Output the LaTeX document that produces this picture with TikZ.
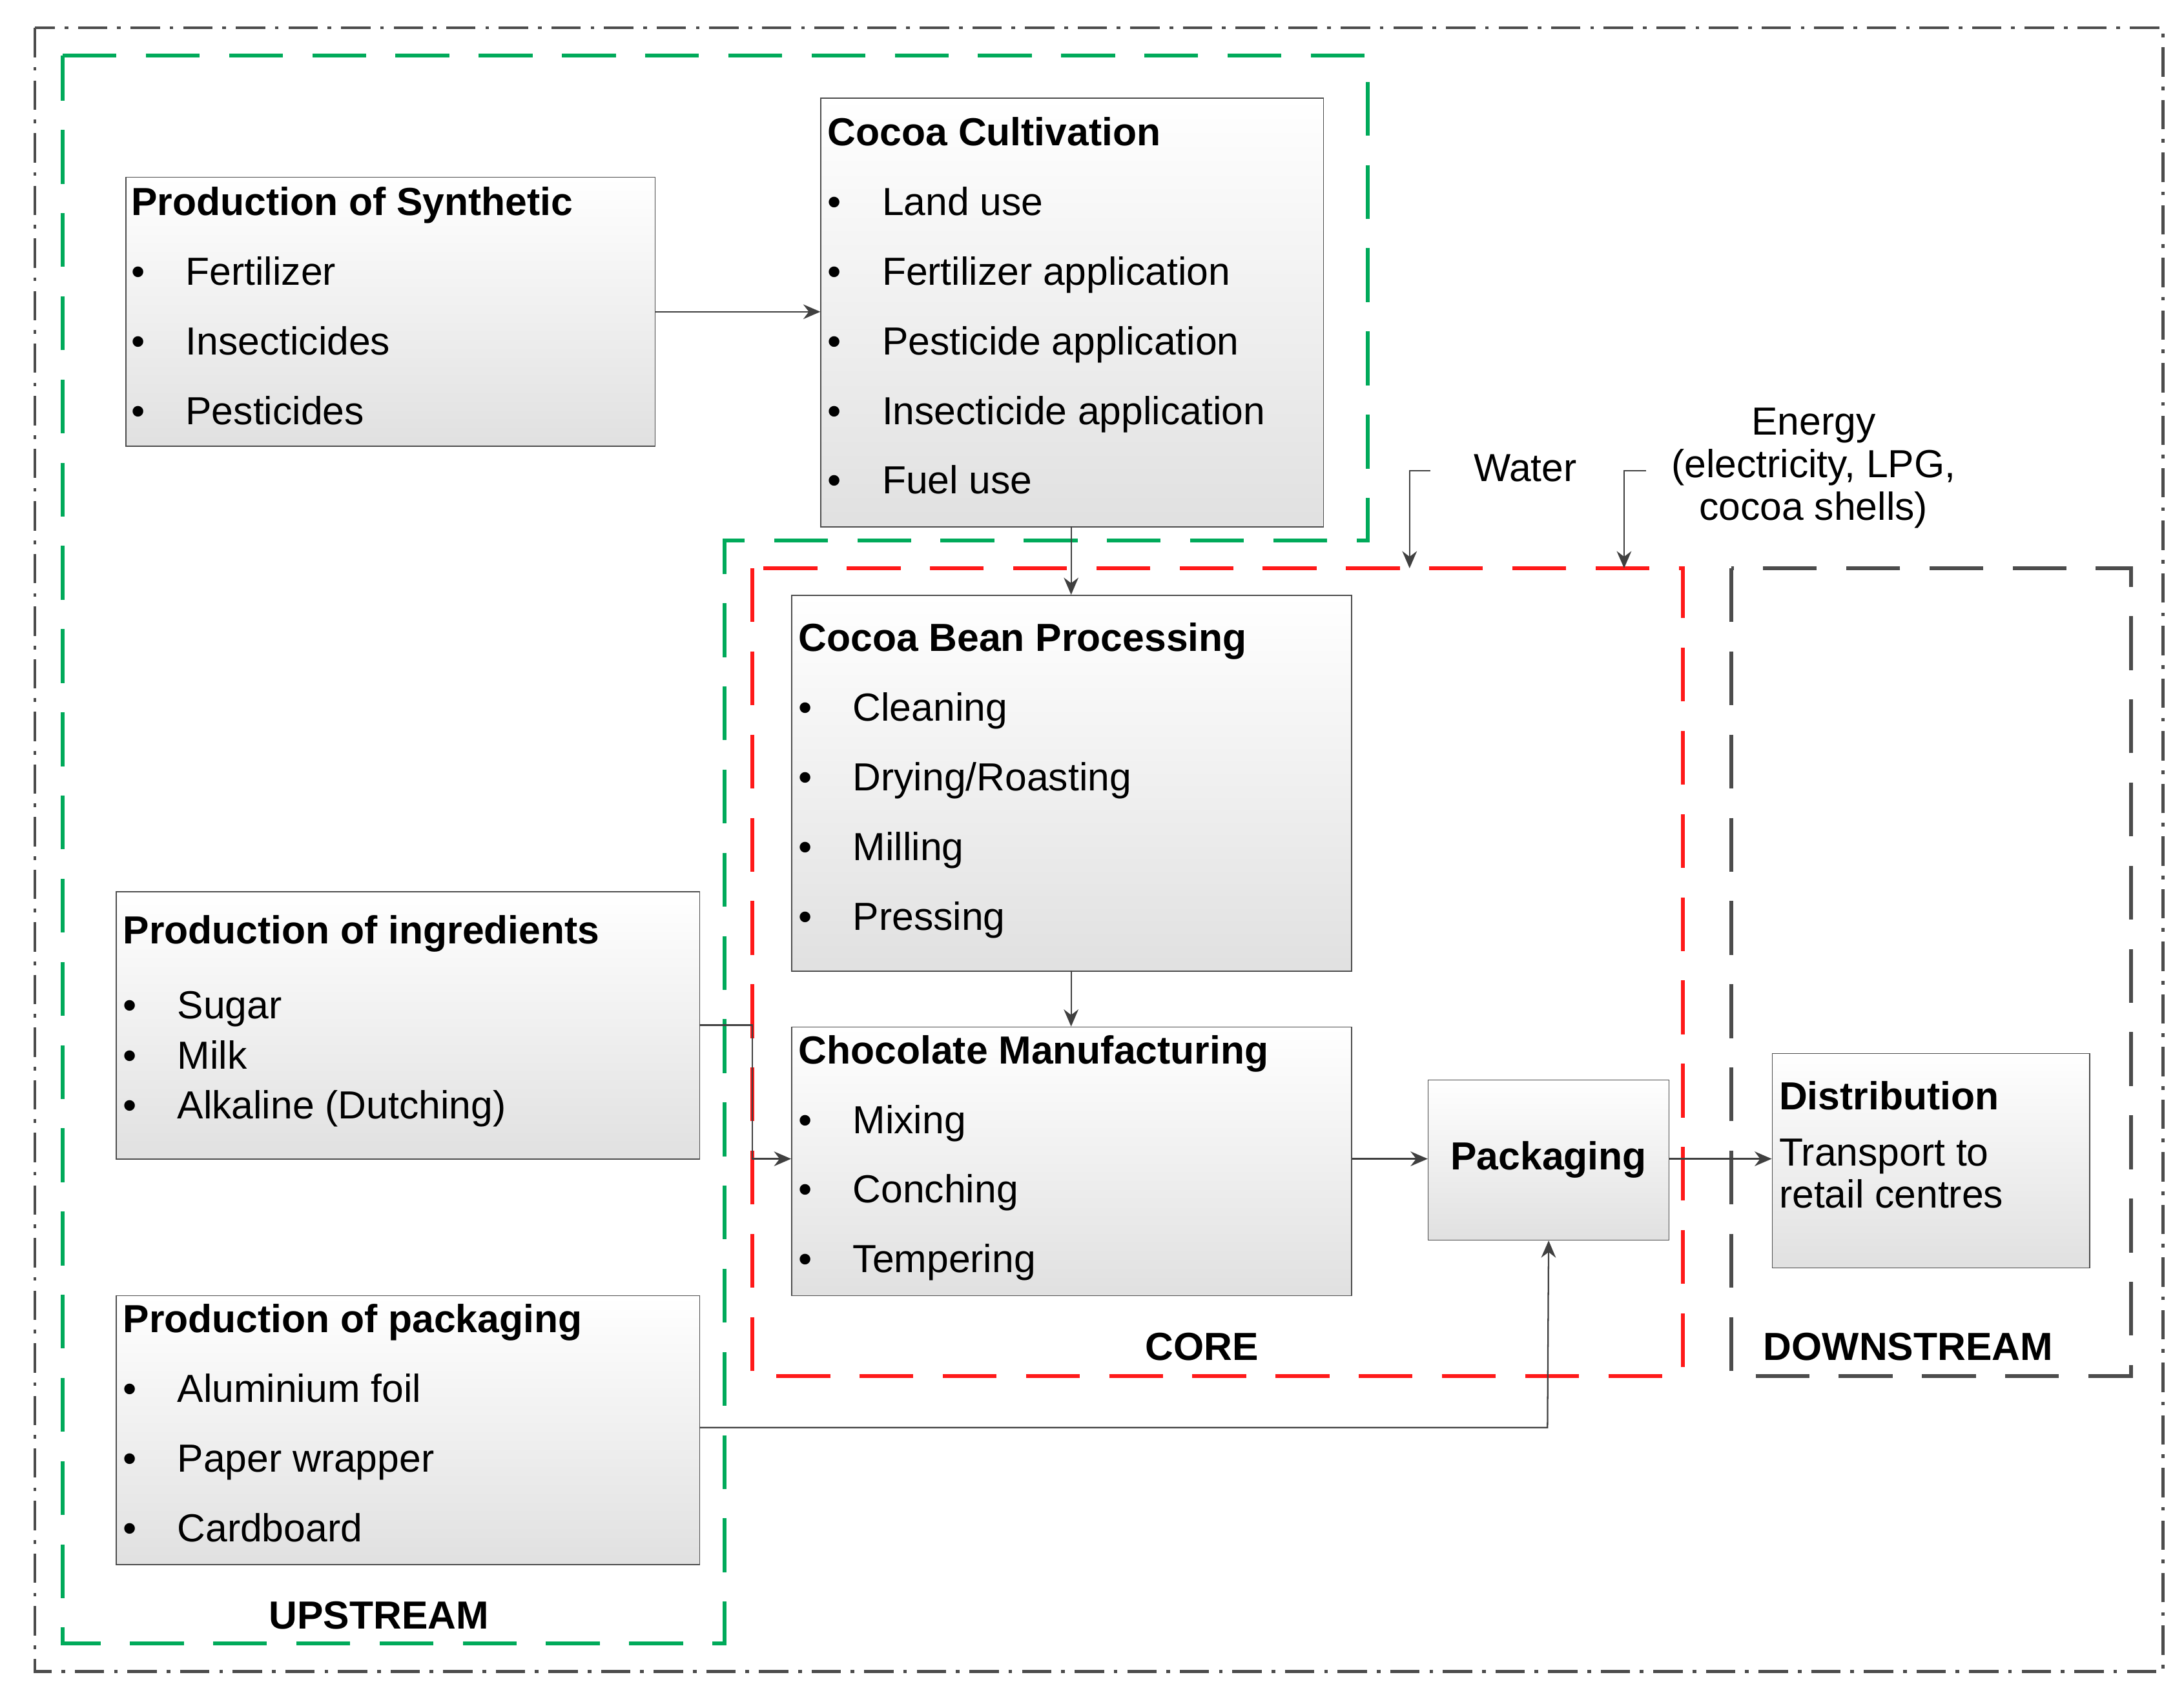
\documentclass[tikz,border=0pt]{standalone}
\usepackage{fontspec}
\setmainfont{Liberation Sans}
\usetikzlibrary{arrows.meta}
\definecolor{upgreen}{RGB}{0,170,90}
\tikzset{
  box/.style={draw=black!70, top color=white, bottom color=black!12, inner sep=0pt},
  txt/.style={anchor=north west, align=left, inner sep=0pt, font=\fontsize{16}{28.45}\selectfont},
  lbl/.style={font=\fontsize{16}{20}\selectfont\bfseries},
  arr/.style={-{Stealth[length=7pt,width=6pt]}, draw=black!75, line width=0.6pt},
  bnd/.style={line width=1.6pt, dash pattern=on 22pt off 12pt},
}
\newcommand{\itm}{\makebox[0.78cm][l]{\textbullet}}
\begin{document}
\begin{tikzpicture}[x=0.02cm,y=-0.02cm]
\useasboundingbox (0,0) rectangle (1568,1218);
% boundaries
\draw[black!70, line width=1.2pt, dash pattern=on 12pt off 4pt on 1.5pt off 4pt] (25,20) rectangle (1553,1200);
\draw[bnd, draw=upgreen] (45,40) -- (982,40) -- (982,388) -- (520,388) -- (520,1180) -- (45,1180) -- cycle;
\draw[bnd, draw=red!90] (540,408) rectangle (1208,988);
\draw[bnd, draw=black!70] (1243,408) rectangle (1530,988);
% boxes
\node[box, anchor=north west, minimum width=7.6cm, minimum height=3.86cm] (syn) at (90,127) {};
\node[box, anchor=north west, minimum width=7.22cm, minimum height=6.16cm] (cul) at (589,70) {};
\node[box, anchor=north west, minimum width=8.04cm, minimum height=5.4cm] (bean) at (568,427) {};
\node[box, anchor=north west, minimum width=8.38cm, minimum height=3.84cm] (ing) at (83,640) {};
\node[box, anchor=north west, minimum width=8.04cm, minimum height=3.86cm] (choc) at (568,737) {};
\node[box, anchor=north west, minimum width=3.46cm, minimum height=2.3cm] (pack) at (1025,775) {};
\node[box, anchor=north west, minimum width=8.38cm, minimum height=3.86cm] (ppk) at (83,930) {};
\node[box, anchor=north west, minimum width=4.56cm, minimum height=3.08cm] (dist) at (1272,756) {};
% texts
\node[txt] (tsyn) at (94,134) {\textbf{Production of Synthetic}\\\itm Fertilizer\\\itm Insecticides\\\itm Pesticides};
\node[txt] (tcul) at (594,84) {\textbf{Cocoa Cultivation}\\\itm Land use\\\itm Fertilizer application\\\itm Pesticide application\\\itm Insecticide application\\\itm Fuel use};
\node[txt] (tbean) at (573,447) {\textbf{Cocoa Bean Processing}\\\itm Cleaning\\\itm Drying/Roasting\\\itm Milling\\\itm Pressing};
\node[txt, font=\fontsize{16}{20.5}\selectfont] (ting) at (88,657) {\textbf{Production of ingredients}\\[10pt]\itm Sugar\\\itm Milk\\\itm Alkaline (Dutching)};
\node[txt] (tchoc) at (573,743) {\textbf{Chocolate Manufacturing}\\\itm Mixing\\\itm Conching\\\itm Tempering};
\node[lbl] (tpack) at (pack) {Packaging};
\node[txt] (tppk) at (88,936) {\textbf{Production of packaging}\\\itm Aluminium foil\\\itm Paper wrapper\\\itm Cardboard};
\node[txt, font=\fontsize{16}{17}\selectfont] (tdist) at (1277,776) {\textbf{Distribution}\\[6pt]Transport to\\retail centres};
% labels
\node[lbl] (lcore) at (863,967) {CORE};
\node[lbl] (ldown) at (1370,967) {DOWNSTREAM};
\node[lbl] (lup) at (272,1160) {UPSTREAM};
\node[font=\fontsize{16}{20}\selectfont] (lwat) at (1095,336) {Water};
\node[font=\fontsize{16}{17.5}\selectfont, align=center] (leng) at (1302,336) {Energy\\(electricity, LPG,\\cocoa shells)};
\coordinate (wat) at (1012,408);
\coordinate (eng) at (1166,408);
% connectors
\draw[arr] (syn.east) -- (syn.east -| cul.west);
\draw[arr] (769,378) -- (769,427);
\draw[arr] (769,697) -- (769,737);
\draw[arr] (ing.east |- 0,736) -- (540,736) -- (540,832) -- (choc.west |- 0,832);
\draw[arr] (choc.east |- 0,832) -- (pack.west |- 0,832);
\draw[arr] (pack.east |- 0,832) -- (dist.west |- 0,832);
\draw[arr] (ppk.east |- 0,1025) -- (1111,1025) -- (pack.south);
\draw[arr] (1027,338) -- (1012,338) -- (wat);
\draw[arr] (1182,338) -- (1166,338) -- (eng);
\end{tikzpicture}
\end{document}
